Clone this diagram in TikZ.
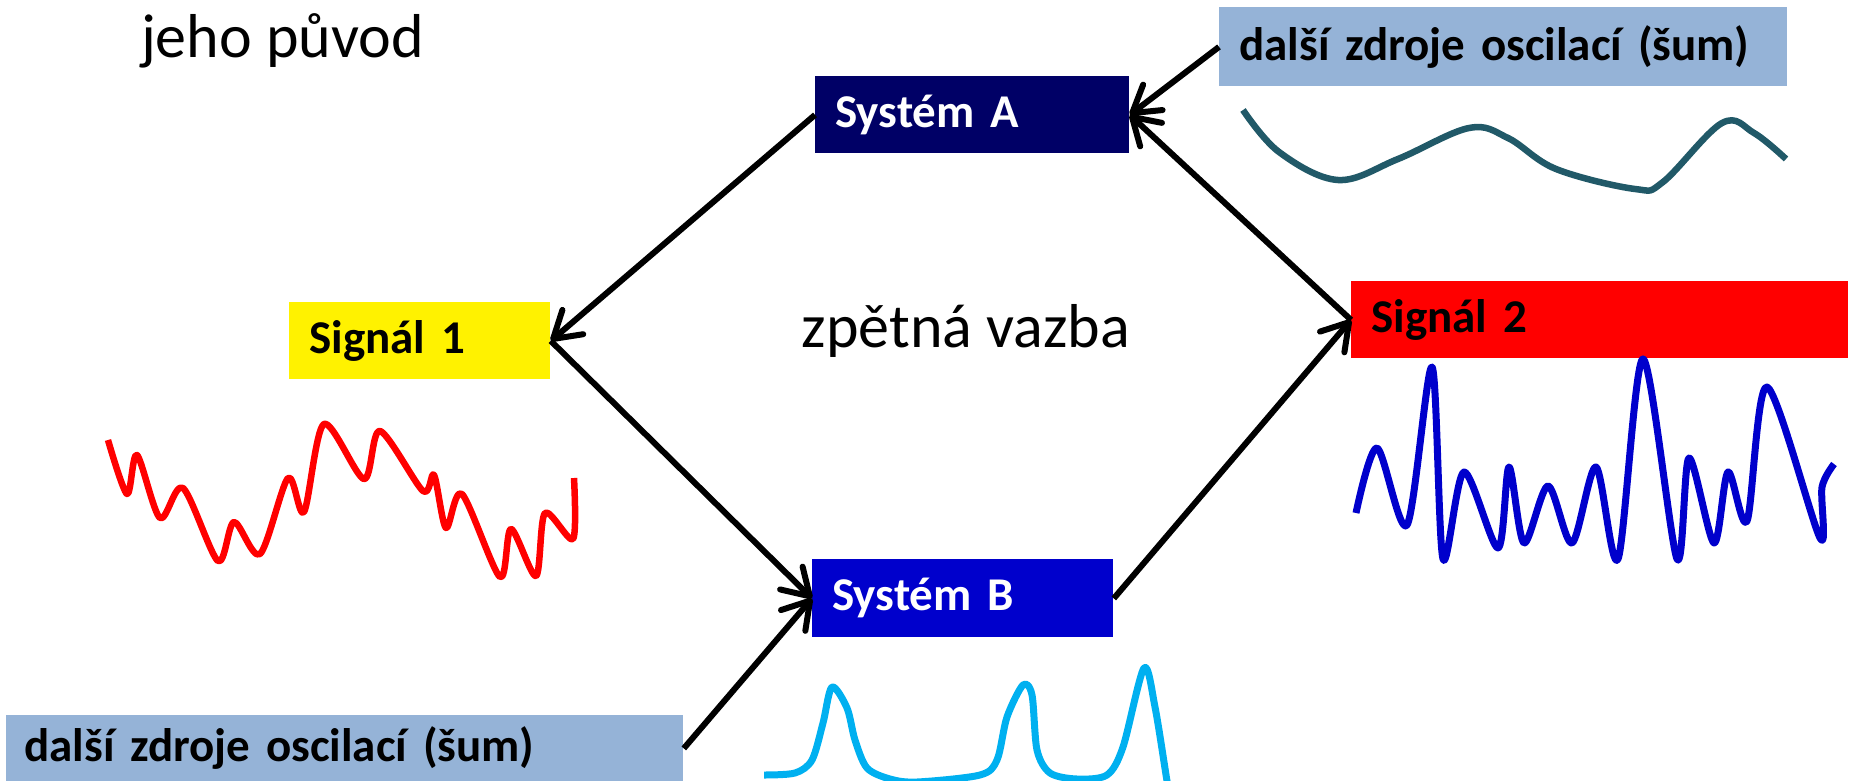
\documentclass[tikz,border=0pt]{standalone}
\usepackage{fontspec}
\setmainfont{Carlito}
\usepackage{tikz}
\usetikzlibrary{arrows.meta,positioning}
\definecolor{sysAblue}{HTML}{000066}
\definecolor{sysBblue}{HTML}{0000CC}
\definecolor{noiseblue}{HTML}{95B3D7}
\definecolor{wavecyan}{HTML}{00B0F0}
\definecolor{waveteal}{HTML}{215968}
\newcommand{\boxfont}{\bfseries\fontsize{23.5}{28}\selectfont\spaceskip=0.19em\relax}

\begin{document}
\begin{tikzpicture}[x=0.5pt,y=-0.5pt,
	box/.style={rectangle,anchor=north west,inner xsep=10pt,inner ysep=0pt,align=left,font=\boxfont},
	bigtext/.style={anchor=base,font=\fontsize{31}{37}\selectfont},
	arr/.style={line width=3pt,-{Straight Barb[round,length=13pt,width=16pt]}},
	wave/.style={line width=3.25pt,line join=round}]
\useasboundingbox (0,0) rectangle (1852,781);

\node [bigtext] (puvod) at (282.5,58) {jeho původ};
\node [bigtext] (vazba) at (966,347) {zpětná vazba};

\node [box,fill=sysAblue,text=white,text width=137pt,minimum height=38.5pt] (sysA) at (815,76) {Systém A};
\node [box,fill=sysBblue,text=white,text width=130.5pt,minimum height=39pt] (sysB) at (812,559) {Systém B};
\node [box,fill=yellow,text width=110.5pt,minimum height=38.5pt] (sig1) at (289,302) {Signál 1};
\node [box,fill=red,text width=228.5pt,minimum height=38.5pt] (sig2) at (1351,281) {Signál 2};
\node [box,fill=noiseblue,text width=264pt,minimum height=39.5pt] (noiseA) at (1219,7) {další zdroje oscilací (šum)};
\node [box,fill=noiseblue,text width=320.5pt,inner xsep=9pt,minimum height=33pt] (noiseB) at (6,715) {další zdroje oscilací (šum)};

\draw [arr] (sysA.west) -- (sig1.east);
\draw [arr] (sig1.east) -- (sysB.west);
\draw [arr] (sysB.east) -- (sig2.west);
\draw [arr] (sig2.west) -- (sysA.east);
\draw [arr] (noiseA.west) -- (sysA.east);
\draw [arr] (noiseB.east) -- (sysB.west);

\draw [wave,waveteal] plot[smooth,tension=0.6] coordinates {(1243,110) (1279,152) (1338,180) (1398,159) (1469,128) (1508,138) (1556,169) (1635,189) (1663,182) (1722,123) (1754,133) (1786,159)};
\draw [wave,red] plot[smooth,tension=0.5] coordinates {(108,440) (127,494) (137,455) (160,518) (183,488) (218,561) (234,522) (260,554) (288,478) (304,512) (324,424) (364,479) (380,431) (423,491) (434,475) (446,528) (462,494) (500,577) (511,529) (536,576) (545,513) (573,539) (574,478)};
\draw [wave,sysBblue,line width=3.5pt] plot[smooth,tension=0.5] coordinates {(1356,513) (1377,448) (1407,525) (1432,367) (1443,559) (1464,472) (1498,548) (1509,467) (1524,543) (1548,486) (1572,543) (1596,467) (1618,559) (1643,359) (1677,559) (1689,458) (1714,543) (1728,472) (1747,521) (1767,387) (1820,538) (1822,487) (1834,464)};
\draw [wave,wavecyan,line width=3.5pt] plot[smooth,tension=0.5] coordinates {(764,775) (795,773) (812,760) (823,723) (832,687) (847,708) (855,740) (867,768) (890,779) (917,782) (980,775) (997,760) (1007,717) (1023,685) (1032,695) (1037,750) (1050,773) (1077,779) (1107,775) (1123,747) (1144,668) (1155,707) (1167,781) (1170,795)};
\end{tikzpicture}
\end{document}
